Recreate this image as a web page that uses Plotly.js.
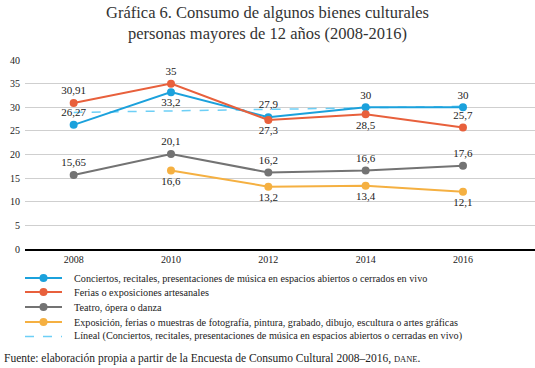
<!DOCTYPE html>
<html><head><meta charset="utf-8">
<script src="https://cdn.plot.ly/plotly-3.0.1.min.js"></script>
<style>html,body{margin:0;padding:0;background:#fff}#c{width:535px;height:368px}</style>
</head><body><div id="c"></div>
<script>
const years = ['2008','2010','2012','2014','2016'];
const conciertos = [26.27, 33.2, 27.9, 30, 30];
const ferias = [30.91, 35, 27.3, 28.5, 25.7];
const teatro = [15.65, 20.1, 16.2, 16.6, 17.6];
const exposicion = [null, 16.6, 13.2, 13.4, 12.1];
const lineal = [28.9, 29.2, 29.6, 29.9, 30.2];
const names = [
  'Conciertos, recitales, presentaciones de música en espacios abiertos o cerrados en vivo',
  'Ferias o exposiciones artesanales',
  'Teatro, ópera o danza',
  'Exposición, ferias o muestras de fotografía, pintura, grabado, dibujo, escultura o artes gráficas',
  'Líneal (Conciertos, recitales, presentaciones de música en espacios abiertos o cerradas en vivo)'
];
const colors = ['#1ba1dc', '#e8603c', '#737373', '#f5b041', '#6dcff6'];
const fmt = v => v === null ? '' : String(v).replace('.', ',');
const xi = years.map((y, i) => i);
const F = 'Liberation Serif, DejaVu Serif, serif';
function tr(vals, name, color, pos) {
  return {x: xi, y: vals, name: name, type: 'scatter', mode: 'lines+markers+text',
    text: vals.map(fmt), textposition: pos, textfont: {family: F, size: 11, color: '#222'},
    line: {color: color, width: 2}, marker: {color: color, size: 8}, cliponaxis: false, connectgaps: false, showlegend: false};
}
const data = [
  {x: xi, y: lineal, name: names[4], type: 'scatter', mode: 'lines', line: {color: colors[4], width: 1.5, dash: 'dash'}, showlegend: false},
  tr(conciertos, names[0], colors[0], ['top center','bottom center','top center','top center','top center']),
  tr(ferias, names[1], colors[1], ['top center','top center','bottom center','bottom center','top center']),
  tr(teatro, names[2], colors[2], ['top center','top center','top center','top center','top center']),
  tr(exposicion, names[3], colors[3], ['bottom center','bottom center','bottom center','bottom center','bottom center'])
];
// manual legend (compact rows like the reference)
const W = 510, H = 189;
const px = x => (x - 25) / W;
const py = y => (249.3 - y) / H;
const rowY = [278.3, 292.3, 307.3, 322.3, 336.7];
const shapes = [], annotations = [];
names.forEach((n, i) => {
  const y = py(rowY[i]);
  shapes.push({type: 'line', xref: 'paper', yref: 'paper', x0: px(25), x1: px(62), y0: y, y1: y,
    line: {color: colors[i], width: i === 4 ? 1.5 : 2, dash: i === 4 ? 'dash' : 'solid'}});
  if (i < 4) shapes.push({type: 'circle', xref: 'paper', yref: 'paper', xsizemode: 'pixel', ysizemode: 'pixel',
    xanchor: px(43.5), yanchor: y, x0: -4, x1: 4, y0: -4, y1: 4, fillcolor: colors[i], line: {width: 0}});
  annotations.push({text: n, xref: 'paper', yref: 'paper', x: px(72), xanchor: 'left', y: y, yanchor: 'middle',
    showarrow: false, font: {family: F, size: 10.2, color: '#222'}});
});
annotations.push({text: 'Gráfica 6. Consumo de algunos bienes culturales<br>personas mayores de 12 años (2008-2016)',
  xref: 'paper', yref: 'paper', x: px(267.5), xanchor: 'center', y: py(23), yanchor: 'middle', showarrow: false,
  font: {family: F, size: 16.5, color: '#333'}});
annotations.push({text: 'Fuente: elaboración propia a partir de la Encuesta de Consumo Cultural 2008–2016, <span style="font-size:8.5px">DANE</span>.',
  xref: 'paper', yref: 'paper', x: px(2), xanchor: 'left', y: py(358.3), yanchor: 'middle', showarrow: false,
  font: {family: F, size: 11.5, color: '#222'}});
const layout = {
  width: 535, height: 368,
  margin: {l: 25, r: 0, t: 60, b: 119},
  paper_bgcolor: '#fff', plot_bgcolor: '#fff',
  font: {family: F, size: 10, color: '#222'},
  showlegend: false,
  xaxis: {range: [-0.5, 4.74], tickvals: xi, ticktext: years, showgrid: false, zeroline: false,
    showline: true, linecolor: '#000', linewidth: 1.5, ticks: '', tickfont: {size: 10}},
  yaxis: {range: [0, 40], dtick: 5, showgrid: true, gridcolor: '#cfcfcf', gridwidth: 1, zeroline: false,
    showline: false, ticks: '', tickfont: {size: 10}, ticklabelstandoff: 4},
  shapes: shapes,
  annotations: annotations
};
Plotly.newPlot('c', data, layout, {displayModeBar: false, staticPlot: true});
</script></body></html>
